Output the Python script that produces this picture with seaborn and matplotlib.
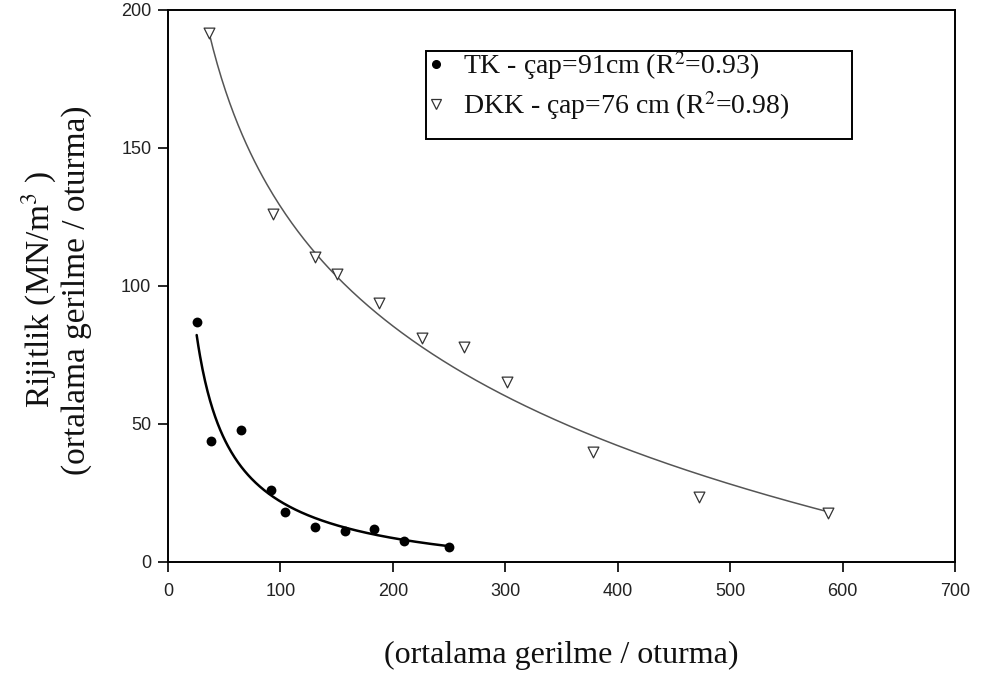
import numpy as np
import pandas as pd
import matplotlib
matplotlib.use("Agg")
import matplotlib.pyplot as plt
from matplotlib.lines import Line2D
from matplotlib.patches import Rectangle
import seaborn as sns

# ---- data ----
tk_x = [25.5, 38.3, 65.0, 91.4, 104.4, 130.8, 157.5, 183.6, 210.3, 249.7]
tk_y = [86.8, 43.8, 47.9, 26.2, 18.0, 12.6, 11.3, 11.8, 7.5, 5.3]
dkk_x = [36.5, 93.1, 131.1, 150.1, 188.0, 226.0, 263.6, 301.9, 377.8, 472.7, 586.9]
dkk_y = [191.6, 126.0, 110.6, 104.2, 93.7, 81.3, 77.8, 65.2, 39.7, 23.4, 17.9]

tk_label = r"TK - çap=91cm (R$^2$=0.93)"
dkk_label = r"DKK - çap=76 cm (R$^2$=0.98)"
x_ticks = [0, 100, 200, 300, 400, 500, 600, 700]
y_ticks = [0, 50, 100, 150, 200]
x_label = "(ortalama gerilme / oturma)"
y_label = "Rijitlik (MN/m$^{3}$ )\n(ortalama gerilme / oturma)"


# ---- regression curves (least squares on the points) ----
def lsq(cols, y):
    X = np.column_stack(cols)
    c, *_ = np.linalg.lstsq(X, y, rcond=None)
    return c, float(np.sum((X @ c - y) ** 2))


def power3_fit(x, y):
    best = None
    for b in np.linspace(-3, -0.02, 3000):
        c, s = lsq([np.ones_like(x), x ** b], y)
        if best is None or s < best[0]:
            best = (s, b, c)
    _, b, c = best
    return lambda t: c[0] + c[1] * t ** b


def log_fit(x, y):
    c, _ = lsq([np.ones_like(x), np.log(x)], y)
    return lambda t: c[0] + c[1] * np.log(t)


tkx, tky = np.array(tk_x), np.array(tk_y)
dkx, dky = np.array(dkk_x), np.array(dkk_y)
f_tk = power3_fit(tkx, tky)
f_dkk = log_fit(dkx, dky)
t_tk = np.linspace(tkx.min(), tkx.max(), 300)
t_dkk = np.linspace(dkx.min(), dkx.max(), 300)
curve_tk = pd.DataFrame({"x": t_tk, "y": f_tk(t_tk)})
curve_dkk = pd.DataFrame({"x": t_dkk, "y": f_dkk(t_dkk)})
pts_tk = pd.DataFrame({"x": tk_x, "y": tk_y})
pts_dkk = pd.DataFrame({"x": dkk_x, "y": dkk_y})

# ---- style ----
sns.set_theme(style="ticks")
plt.rcParams["font.family"] = ["Liberation Serif", "DejaVu Serif"]
plt.rcParams["mathtext.fontset"] = "stix"

fig = plt.figure(figsize=(9.82, 6.77), dpi=100)
ax = fig.add_axes([168 / 982, 1 - 562 / 677, 787 / 982, 552 / 677])

sns.lineplot(data=curve_dkk, x="x", y="y", ax=ax, color="#555555", lw=1.1)
sns.lineplot(data=curve_tk, x="x", y="y", ax=ax, color="black", lw=1.8)
sns.scatterplot(data=pts_tk, x="x", y="y", ax=ax, marker="o", color="black",
                s=50, edgecolor="black", linewidth=0, zorder=3)
sns.scatterplot(data=pts_dkk, x="x", y="y", ax=ax, marker="v", facecolor="white",
                s=60, edgecolor="#333333", linewidth=0.9, zorder=3)

ax.set_xlim(0, 700)
ax.set_ylim(0, 200)
ax.set_xticks(x_ticks)
ax.set_yticks(y_ticks)
for sp in ax.spines.values():
    sp.set_visible(True)
    sp.set_linewidth(1.4)
    sp.set_color("black")
ax.tick_params(direction="out", length=7, width=1.2, color="black",
               labelsize=13, labelcolor="#222222", labelfontfamily="Liberation Sans",
               top=False, right=False)
ax.tick_params(axis="x", pad=8)
ax.tick_params(axis="y", pad=5)

ax.set_xlabel(x_label, fontsize=23, color="#111111")
ax.xaxis.set_label_coords(0.5, (562 - 655) / 552)
ax.xaxis.label.set_va("center")
ax.set_ylabel(y_label, fontsize=24, color="#111111", linespacing=1.1)
ax.yaxis.set_label_coords((56 - 168) / 787, (562 - 290) / 552)
ax.yaxis.label.set_va("center")

# legend
handles = [
    Line2D([], [], marker="o", ls="", color="black", markersize=5.5),
    Line2D([], [], marker="v", ls="", markerfacecolor="white",
           markeredgecolor="#333333", markeredgewidth=0.9, markersize=6.5),
]
leg = ax.legend(handles, [tk_label, dkk_label], loc="upper left",
                bbox_to_anchor=((428 - 168) / 787, (562 - 49) / 552),
                frameon=False, fontsize=20, borderpad=0, handlelength=0.6,
                handletextpad=0.65, labelspacing=0.25, borderaxespad=0)
for t in leg.get_texts():
    t.set_color("#111111")
ax.add_patch(Rectangle(((426 - 168) / 787, (562 - 139) / 552), 426 / 787, 88 / 552,
                       transform=ax.transAxes, fill=False, edgecolor="black",
                       lw=1.4, zorder=5))

fig.savefig("out.png", dpi=100)
